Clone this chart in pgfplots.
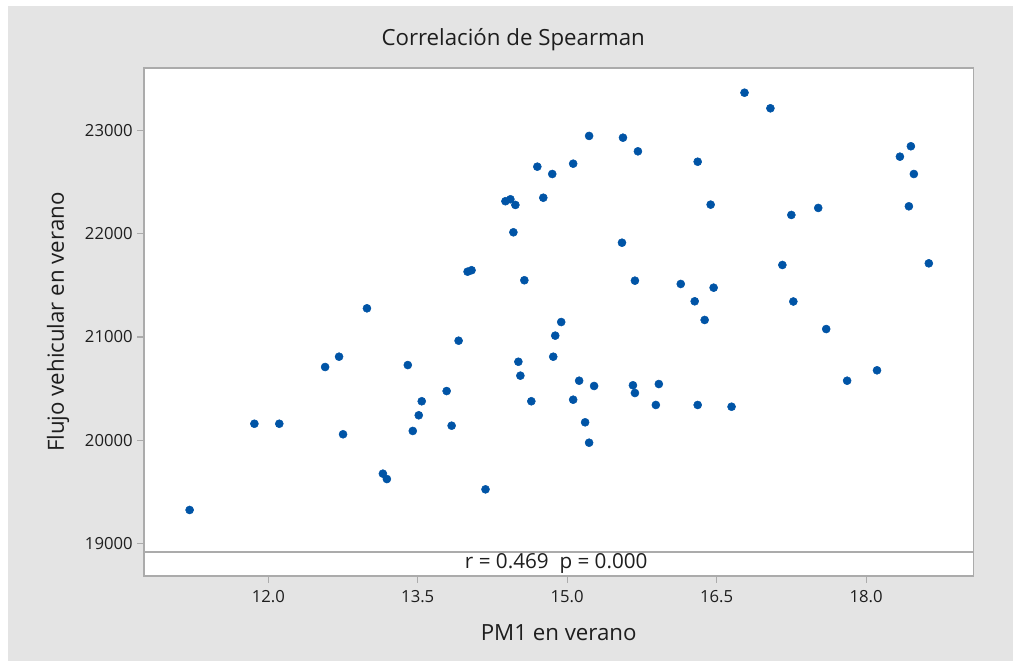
\documentclass[border=0pt]{standalone}
\usepackage{fontspec}
\setmainfont{Open Sans}
\usepackage{pgfplots}
\pgfplotsset{compat=1.18}
\definecolor{bgc}{HTML}{E4E4E4}
\definecolor{ptc}{HTML}{0054A6}
\definecolor{framec}{HTML}{ABABAB}
\definecolor{txtc}{HTML}{1E1E1E}
\begin{document}
\begin{tikzpicture}
\fill[white] (0,0) rectangle (759.75pt,495.75pt);
\fill[bgc] (6pt,0) rectangle (759.75pt,491.25pt);
\begin{axis}[
  at={(108pt,63.75pt)}, anchor=south west,
  scale only axis, width=622pt, height=380.8pt,
  xmin=10.752, xmax=19.077, ymin=18683, ymax=23605,
  axis line style={framec, line width=1.2pt},
  axis background/.style={fill=white},
  tick align=outside, xtick pos=bottom, ytick pos=left,
  major tick length=5pt, tick style={framec, line width=0.8pt},
  xtick={12,13.5,15,16.5,18},
  ytick={19000,20000,21000,22000,23000},
  /pgf/number format/assume math mode=true,
  xticklabel style={/pgf/number format/fixed, /pgf/number format/fixed zerofill, /pgf/number format/precision=1, yshift=-2pt},
  yticklabel style={/pgf/number format/set thousands separator={}},
  scaled ticks=false,
  ticklabel style={font=\fontsize{12.5}{14}\selectfont, text=txtc},
  title={Correlación de Spearman},
  title style={at={(axis description cs:0.5,1)}, anchor=center, xshift=-34.1pt, yshift=15.2pt, font=\fontsize{16.7}{19}\selectfont, text=txtc},
  xlabel={PM1 en verano},
  xlabel style={at={(axis description cs:0.5,0)}, anchor=center, yshift=-42.75pt, font=\fontsize{16.7}{19}\selectfont, text=txtc},
  ylabel={Flujo vehicular en verano},
  ylabel style={at={(axis description cs:-0.1037,0.5)}, anchor=center, font=\fontsize{16.7}{19}\selectfont, text=txtc},
]
\addplot[only marks, mark=*, mark size=3pt, color=ptc, fill=ptc] coordinates {
(11.21,19323) (11.86,20159) (12.11,20159) (12.57,20709) (12.71,20809)
(12.75,20057) (12.99,21278) (13.15,19675) (13.19,19623) (13.40,20728)
(13.45,20089) (13.51,20241) (13.54,20377) (13.79,20476) (13.84,20140)
(13.91,20964) (14.00,21633) (14.04,21647) (14.18,19523) (14.38,22316)
(14.43,22335) (14.48,22280) (14.46,22015) (14.51,20760) (14.53,20625)
(14.57,21550) (14.64,20377) (14.70,22651) (14.76,22350) (14.85,22580)
(14.88,21013) (14.86,20809) (14.94,21145) (15.06,22680) (15.06,20392)
(15.12,20576) (15.18,20173) (15.22,19975) (15.22,22949) (15.27,20525)
(15.55,21914) (15.56,22932) (15.66,20532) (15.68,21546) (15.68,20457)
(15.71,22800) (15.89,20341) (15.92,20544) (16.14,21514) (16.28,21346)
(16.31,22699) (16.31,20341) (16.38,21165) (16.44,22283) (16.47,21478)
(16.65,20324) (16.78,23368) (17.04,23217) (17.16,21698) (17.25,22183)
(17.27,21344) (17.52,22251) (17.60,21077) (17.81,20576) (18.11,20677)
(18.34,22748) (18.45,22849) (18.48,22580) (18.43,22267) (18.63,21714)
};
\draw[framec, line width=1.2pt] (axis cs:10.752,18918) -- (axis cs:19.077,18918);
\node[font=\fontsize{15.5}{17}\selectfont, text=txtc] at (axis cs:14.89,18800) {r = 0.469\ \ p = 0.000};
\end{axis}
\end{tikzpicture}
\end{document}
